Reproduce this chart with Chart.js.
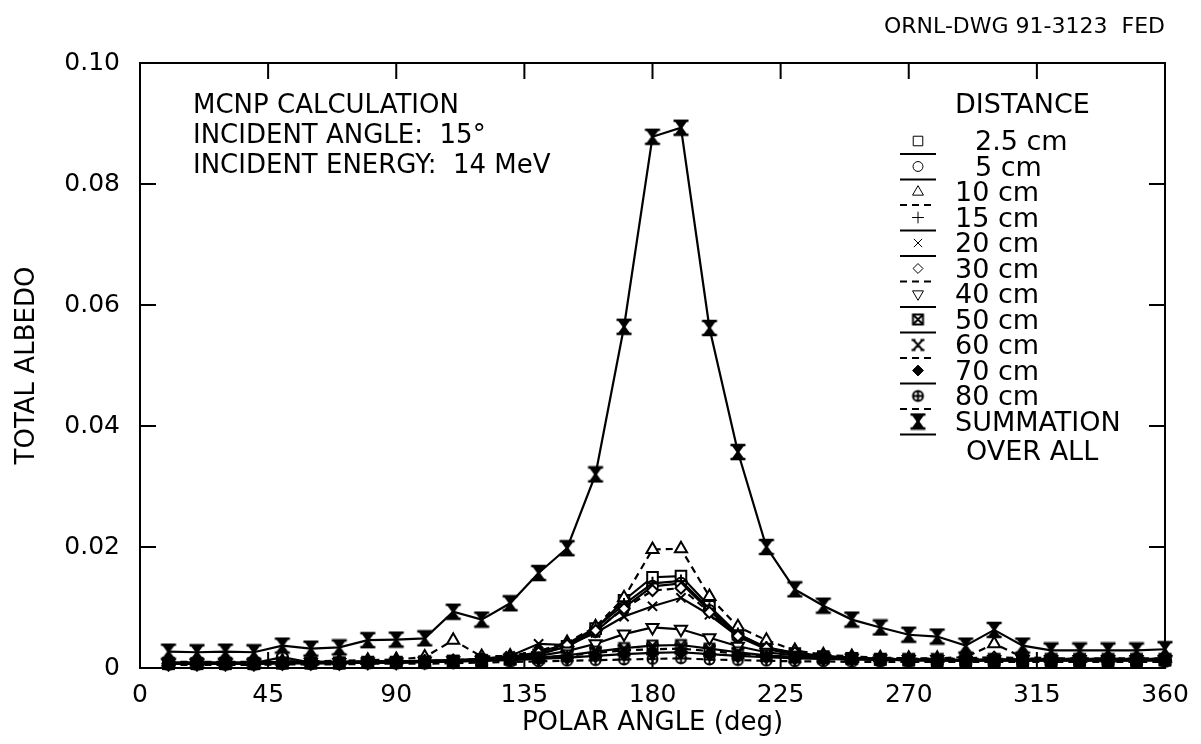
<!DOCTYPE html>
<html>
<head>
<meta charset="utf-8">
<script src="https://cdn.jsdelivr.net/npm/chart.js@4.4.1/dist/chart.umd.min.js"></script>
<style>
  html, body { margin: 0; padding: 0; background: #fff; }
</style>
</head>
<body>
<canvas id="myChart" width="1201" height="744"></canvas>
<script>
// polar angle of each tally bin (deg)
const angles = [10, 20, 30, 40, 50, 60, 70, 80, 90, 100, 110, 120, 130, 140, 150, 160, 170, 180,
  190, 200, 210, 220, 230, 240, 250, 260, 270, 280, 290, 300, 310, 320, 330, 340, 350, 360]

const cm2_5 = [.0007, .0007, .0007, .0007, .0008, .0008, .0008, .0009, .0009, .0010, .0011, .0012, .0015, .0022, .0036, .0065, .0112, .0150,
  .0152, .0102, .0056, .0033, .0024, .0019, .0016, .0014, .0013, .0012, .0012, .0012, .0012, .0012, .0012, .0012, .0012, .0013]
const cm5 = [.0008, .0008, .0008, .0008, .0018, .0009, .0009, .0010, .0010, .0011, .0012, .0013, .0016, .0024, .0035, .0060, .0100, .0135,
  .0140, .0095, .0052, .0031, .0023, .0018, .0016, .0014, .0013, .0013, .0012, .0013, .0013, .0013, .0013, .0013, .0013, .0013]
const cm10 = [.0010, .0010, .0010, .0010, .0011, .0011, .0012, .0013, .0014, .0018, .0046, .0019, .0020, .0028, .0042, .0068, .0116, .0196,
  .0197, .0118, .0068, .0046, .0029, .0022, .0019, .0017, .0016, .0016, .0018, .0040, .0018, .0016, .0016, .0016, .0016, .0016]
const cm15 = [.0009, .0009, .0009, .0009, .0010, .0010, .0010, .0011, .0011, .0012, .0013, .0014, .0018, .0026, .0040, .0066, .0105, .0140,
  .0144, .0098, .0056, .0034, .0025, .0020, .0017, .0015, .0014, .0014, .0013, .0014, .0014, .0014, .0014, .0014, .0014, .0014]
const cm20 = [.0009, .0009, .0009, .0009, .0010, .0010, .0010, .0011, .0011, .0012, .0013, .0015, .0020, .0040, .0038, .0058, .0085, .0102,
  .0116, .0088, .0052, .0033, .0024, .0019, .0016, .0015, .0014, .0014, .0013, .0014, .0014, .0014, .0014, .0014, .0014, .0014]
const cm30 = [.0009, .0009, .0009, .0009, .0010, .0010, .0010, .0011, .0011, .0012, .0013, .0015, .0018, .0025, .0038, .0062, .0098, .0128,
  .0132, .0092, .0053, .0033, .0025, .0020, .0017, .0016, .0015, .0015, .0016, .0018, .0016, .0015, .0015, .0015, .0015, .0015]
const cm40 = [.0008, .0008, .0008, .0008, .0009, .0009, .0009, .0010, .0010, .0011, .0012, .0013, .0016, .0020, .0028, .0040, .0056, .0067,
  .0064, .0050, .0036, .0026, .0021, .0018, .0016, .0015, .0014, .0014, .0013, .0014, .0014, .0014, .0014, .0014, .0014, .0014]
const cm50 = [.0007, .0007, .0007, .0007, .0008, .0008, .0008, .0009, .0009, .0010, .0011, .0012, .0014, .0017, .0021, .0027, .0033, .0037,
  .0038, .0032, .0026, .0021, .0018, .0016, .0015, .0014, .0013, .0013, .0013, .0013, .0013, .0013, .0013, .0013, .0013, .0013]
const cm60 = [.0008, .0008, .0008, .0008, .0009, .0009, .0009, .0010, .0010, .0011, .0012, .0013, .0015, .0017, .0020, .0025, .0029, .0031,
  .0032, .0028, .0024, .0020, .0018, .0017, .0016, .0015, .0015, .0015, .0015, .0015, .0015, .0015, .0015, .0015, .0015, .0015]
const cm70 = [.0007, .0007, .0007, .0007, .0008, .0008, .0008, .0009, .0009, .0010, .0011, .0012, .0013, .0015, .0017, .0020, .0023, .0025,
  .0026, .0023, .0020, .0018, .0016, .0015, .0014, .0014, .0013, .0013, .0013, .0013, .0013, .0013, .0013, .0013, .0013, .0013]
const cm80 = [.0005, .0005, .0005, .0005, .0006, .0006, .0006, .0007, .0007, .0007, .0008, .0009, .0010, .0011, .0012, .0013, .0014, .0015,
  .0016, .0014, .0013, .0012, .0011, .0011, .0010, .0010, .0010, .0010, .0010, .0010, .0010, .0010, .0010, .0010, .0010, .0010]
const summation = [.0027, .0026, .0027, .0026, .0037, .0032, .0034, .0046, .0047, .0049, .0093, .0080, .0107, .0157, .0198, .0320, .0564, .0878,
  .0893, .0562, .0357, .0200, .0130, .0103, .0080, .0067, .0055, .0052, .0037, .0063, .0037, .0029, .0029, .0029, .0029, .0031]

const xTicks = { min: 0, max: 360, step: 45 }
const yTicks = { min: 0, max: 0.10, step: 0.02 }

const FONT = '"DejaVu Sans", "Liberation Sans", sans-serif'
Chart.defaults.color = '#000'
Chart.defaults.font.family = FONT

// small canvases for the plot symbols that Chart.js has no built-in style for
const makeMarker = (size, draw) => {
  const c = document.createElement('canvas')
  c.width = size
  c.height = size
  const g = c.getContext('2d')
  g.translate(size / 2, size / 2)
  g.strokeStyle = '#000'
  g.fillStyle = '#000'
  g.lineWidth = 2
  draw(g)
  return c
}

const boxX = makeMarker(15, g => {
  g.strokeRect(-5, -5, 10, 10)
  g.beginPath()
  g.moveTo(-5, -5); g.lineTo(5, 5)
  g.moveTo(5, -5); g.lineTo(-5, 5)
  g.stroke()
})
const tieX = makeMarker(15, g => {
  g.beginPath()
  g.moveTo(-4.5, -5); g.lineTo(4.5, 5)
  g.moveTo(4.5, -5); g.lineTo(-4.5, 5)
  g.moveTo(-6.5, -5); g.lineTo(-2.5, -5)
  g.moveTo(2.5, -5); g.lineTo(6.5, -5)
  g.moveTo(-6.5, 5); g.lineTo(-2.5, 5)
  g.moveTo(2.5, 5); g.lineTo(6.5, 5)
  g.stroke()
})
const oPlus = makeMarker(15, g => {
  g.beginPath()
  g.arc(0, 0, 5, 0, Math.PI * 2)
  g.moveTo(-5, 0); g.lineTo(5, 0)
  g.moveTo(0, -5); g.lineTo(0, 5)
  g.stroke()
})
const hourglass = makeMarker(18, g => {
  g.beginPath()
  g.moveTo(-6.5, -7); g.lineTo(6.5, -7); g.lineTo(1.5, 0); g.lineTo(6.5, 7)
  g.lineTo(-6.5, 7); g.lineTo(-1.5, 0); g.closePath()
  g.fill()
  g.lineWidth = 2.5
  g.beginPath()
  g.moveTo(-7.5, -7); g.lineTo(7.5, -7)
  g.moveTo(-7.5, 7); g.lineTo(7.5, 7)
  g.stroke()
})

const series = [
  { label: '2.5 cm', values: cm2_5, pointStyle: 'rect', radius: 7.5, fill: '#fff', dash: [] },
  { label: '5 cm', values: cm5, pointStyle: 'circle', radius: 5.5, fill: '#fff', dash: [] },
  { label: '10 cm', values: cm10, pointStyle: 'triangle', radius: 7, fill: '#fff', dash: [7, 5] },
  { label: '15 cm', values: cm15, pointStyle: 'cross', radius: 6.5, fill: '#fff', dash: [] },
  { label: '20 cm', values: cm20, pointStyle: 'crossRot', radius: 6.5, fill: '#fff', dash: [] },
  { label: '30 cm', values: cm30, pointStyle: 'rectRot', radius: 5.5, fill: '#fff', dash: [7, 5] },
  { label: '40 cm', values: cm40, pointStyle: 'triangle', radius: 7, fill: '#fff', dash: [], rotation: 180 },
  { label: '50 cm', values: cm50, pointStyle: boxX, radius: 6, fill: '#000', dash: [] },
  { label: '60 cm', values: cm60, pointStyle: tieX, radius: 6, fill: '#000', dash: [7, 5] },
  { label: '70 cm', values: cm70, pointStyle: 'rectRot', radius: 6, fill: '#000', dash: [] },
  { label: '80 cm', values: cm80, pointStyle: oPlus, radius: 6, fill: '#fff', dash: [7, 5] },
  { label: 'SUMMATION', values: summation, pointStyle: hourglass, radius: 8, fill: '#000', dash: [] }
]

const datasets = series.map((s, i) => ({
  label: s.label,
  data: angles.map((a, k) => ({ x: a, y: s.values[k] })),
  borderColor: '#000',
  borderWidth: 2.2,
  borderDash: s.dash,
  pointStyle: s.pointStyle,
  pointRadius: s.radius,
  pointRotation: s.rotation || 0,
  pointBackgroundColor: s.fill,
  pointBorderColor: '#000',
  pointBorderWidth: 2,
  tension: 0,
  clip: 10,
  order: series.length - i
}))

// frame with inward tick marks on all four sides
const framePlugin = {
  id: 'frame',
  afterDatasetsDraw(chart) {
    const { ctx, chartArea: a, scales: { x, y } } = chart
    const len = 16
    ctx.save()
    ctx.strokeStyle = '#000'
    ctx.lineWidth = 2
    ctx.strokeRect(a.left, a.top, a.right - a.left, a.bottom - a.top)
    ctx.beginPath()
    x.ticks.forEach(t => {
      const px = x.getPixelForValue(t.value)
      ctx.moveTo(px, a.bottom); ctx.lineTo(px, a.bottom - len)
      ctx.moveTo(px, a.top); ctx.lineTo(px, a.top + len)
    })
    y.ticks.forEach(t => {
      const py = y.getPixelForValue(t.value)
      ctx.moveTo(a.left, py); ctx.lineTo(a.left + len, py)
      ctx.moveTo(a.right, py); ctx.lineTo(a.right - len, py)
    })
    ctx.stroke()
    ctx.restore()
  }
}

// drawing number, run notes and the DISTANCE key
const notesPlugin = {
  id: 'notes',
  afterDraw(chart) {
    const { ctx, chartArea: a } = chart
    ctx.save()
    ctx.fillStyle = '#000'
    ctx.textBaseline = 'middle'
    ctx.textAlign = 'right'
    ctx.font = '22px ' + FONT
    ctx.fillText('ORNL-DWG 91-3123  FED', a.right, 27)

    ctx.textAlign = 'left'
    ctx.font = '26px ' + FONT
    ctx.fillText('MCNP CALCULATION', 193, 106)
    ctx.fillText('INCIDENT ANGLE:  15°', 193, 136)
    ctx.fillText('INCIDENT ENERGY:  14 MeV', 193, 166)

    ctx.font = '27px ' + FONT
    ctx.fillText('DISTANCE', 955, 106)
    const rowH = 25.5
    series.forEach((s, i) => {
      const yy = 143 + i * rowH
      const mx = 918
      ctx.save()
      ctx.lineWidth = 2
      ctx.strokeStyle = '#000'
      ctx.setLineDash(s.dash)
      ctx.beginPath()
      ctx.moveTo(mx - 18, yy + 11)
      ctx.lineTo(mx + 18, yy + 11)
      ctx.stroke()
      ctx.restore()
      ctx.save()
      ctx.fillStyle = s.fill
      ctx.strokeStyle = '#000'
      Chart.helpers.drawPoint(ctx, {
        pointStyle: s.pointStyle,
        radius: s.radius * 0.9,
        rotation: s.rotation || 0,
        borderWidth: 1.8
      }, mx, yy - 2)
      ctx.restore()
      let tx = 955
      if (s.label === '2.5 cm' || s.label === '5 cm') tx = 975
      ctx.fillText(s.label, tx, yy)
    })
    ctx.fillText('OVER ALL', 966, 143 + 11 * rowH + 29)
    ctx.restore()
  }
}

const ctx = document.getElementById('myChart')

const chart = new Chart(ctx, {
  type: 'line',
  data: { datasets: datasets },
  options: {
    responsive: false,
    animation: false,
    devicePixelRatio: 1,
    layout: { padding: { top: 63, right: 36, left: 0, bottom: 0 } },
    plugins: {
      legend: { display: false },
      tooltip: { enabled: false }
    },
    scales: {
      x: {
        type: 'linear',
        min: xTicks.min,
        max: xTicks.max,
        grid: { display: false },
        border: { display: false },
        ticks: { stepSize: xTicks.step, padding: 4, font: { size: 25 }, maxRotation: 0 },
        title: { display: true, text: 'POLAR ANGLE (deg)', font: { size: 26 }, padding: { top: 0, bottom: 5 } },
        afterFit: s => { s.height = 76 }
      },
      y: {
        min: yTicks.min,
        max: yTicks.max,
        grid: { display: false },
        border: { display: false },
        ticks: {
          stepSize: yTicks.step,
          padding: 12,
          font: { size: 25 },
          callback: v => v === 0 ? '0' : v.toFixed(2)
        },
        title: { display: true, text: 'TOTAL ALBEDO', font: { size: 26 }, padding: { top: 12, bottom: 0 } },
        afterFit: s => { s.width = 140 }
      }
    }
  },
  plugins: [framePlugin, notesPlugin]
})
</script>
</body>
</html>
